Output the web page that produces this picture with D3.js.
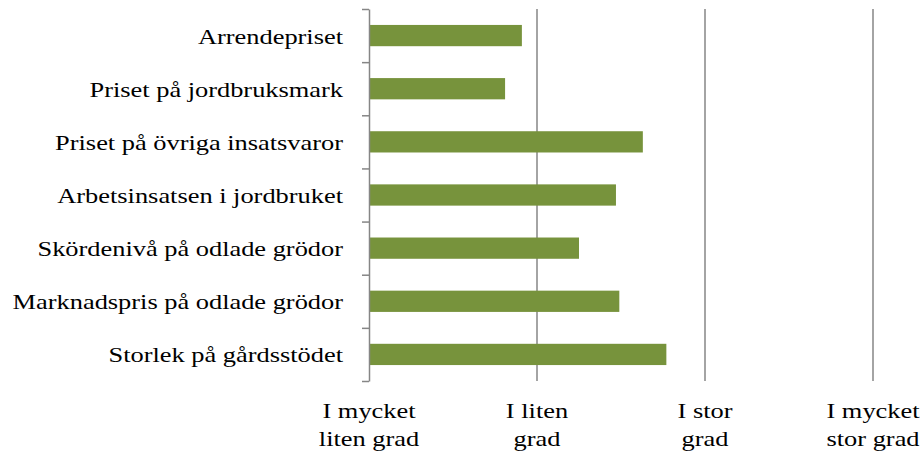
<!DOCTYPE html>
<html>
<head>
<meta charset="utf-8">
<script src="https://cdn.jsdelivr.net/npm/d3@7"></script>
<style>
  body { margin: 0; background: #fff; }
  text { font-family: "Liberation Serif", "Times New Roman", serif; fill: #000; }
</style>
</head>
<body>
<div id="main"></div>
<script>
// survey answers, mean score 1-4
const categories = [
    'Arrendepriset',
    'Priset på jordbruksmark',
    'Priset på övriga insatsvaror',
    'Arbetsinsatsen i jordbruket',
    'Skördenivå på odlade grödor',
    'Marknadspris på odlade grödor',
    'Storlek på gårdsstödet'
];
const values = [1.91, 1.81, 2.63, 2.47, 2.25, 2.49, 2.77];

// tick labels on the x axis, two lines each
const tickValues = [1, 2, 3, 4];
const tickLabels = [
    ['I mycket', 'liten grad'],
    ['I liten', 'grad'],
    ['I stor', 'grad'],
    ['I mycket', 'stor grad']
];

const width = 924, height = 459;
const plotLeft = 369, plotRight = 873, plotTop = 9, plotBottom = 381;
// the original text is a bit wider than it is tall
const stretch = 'scale(1.2,1)';

let svg = d3.select('#main')
    .append('svg')
        .attr('width', width)
        .attr('height', height);

const x = d3.scaleLinear().domain([1, 4]).range([plotLeft, plotRight]);
const y = d3.scaleBand().domain(categories).range([plotTop, plotBottom])
    .paddingInner(0.6).paddingOuter(0.3);

// vertical gridlines
svg.selectAll('.grid')
    .data(tickValues.slice(1))
    .enter()
    .append('line')
        .attr('x1', d => x(d)).attr('x2', d => x(d))
        .attr('y1', plotTop).attr('y2', plotBottom)
        .style('stroke', '#868686')
        .style('stroke-width', 1.5);

// bars
svg.selectAll('.bar')
    .data(categories)
    .enter()
    .append('rect')
        .attr('x', x(1))
        .attr('y', d => y(d))
        .attr('width', (d, i) => x(values[i]) - x(1))
        .attr('height', y.bandwidth())
        .style('fill', '#77933c');

// category axis with ticks between the bars
const yEdges = d3.scaleLinear().domain([0, categories.length]).range([plotTop, plotBottom]);
let yAxis = svg.append('g')
    .attr('transform', `translate(${plotLeft},0)`)
    .call(d3.axisLeft(yEdges).ticks(categories.length).tickSize(7).tickSizeOuter(0).tickFormat(''));
yAxis.selectAll('path, line').style('stroke', '#868686').style('stroke-width', 1.5);

svg.selectAll('.cat')
    .data(categories)
    .enter()
    .append('text')
        .attr('transform', d => `translate(343,${y(d) + y.bandwidth() / 2 + 8}) ${stretch}`)
        .attr('text-anchor', 'end')
        .style('font-size', '22px')
        .text(d => d);

// x tick labels
let xl = svg.selectAll('.xl')
    .data(tickValues)
    .enter()
    .append('text')
        .attr('transform', d => `translate(${x(d)},0) ${stretch}`)
        .attr('text-anchor', 'middle')
        .style('font-size', '22px');
xl.append('tspan')
    .attr('x', 0).attr('y', 418)
    .text((d, i) => tickLabels[i][0]);
xl.append('tspan')
    .attr('x', 0).attr('y', 446)
    .text((d, i) => tickLabels[i][1]);
</script>
</body>
</html>
